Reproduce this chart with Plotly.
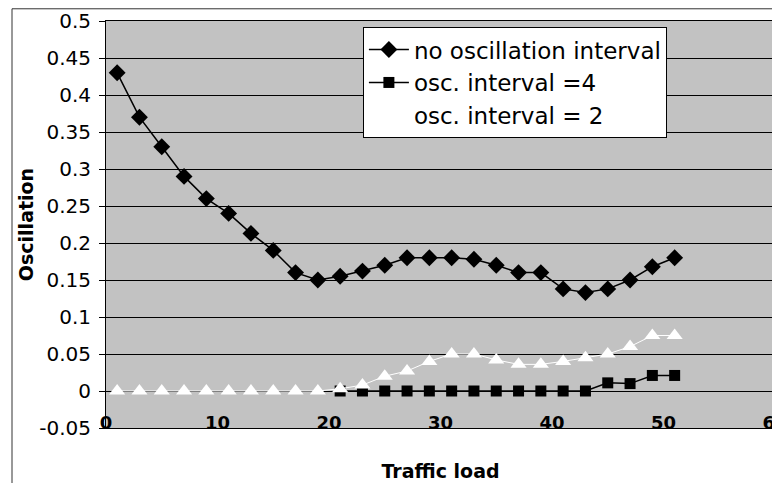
import plotly.graph_objects as go

# ---- data ----
traffic_load = [1, 3, 5, 7, 9, 11, 13, 15, 17, 19, 21, 23, 25, 27, 29, 31, 33,
                35, 37, 39, 41, 43, 45, 47, 49, 51]
no_osc = [0.43, 0.37, 0.33, 0.29, 0.26, 0.24, 0.213, 0.19, 0.16, 0.15, 0.155,
          0.162, 0.17, 0.18, 0.18, 0.18, 0.178, 0.17, 0.16, 0.16, 0.138, 0.133,
          0.138, 0.15, 0.168, 0.18]
load_osc4 = [21, 23, 25, 27, 29, 31, 33, 35, 37, 39, 41, 43, 45, 47, 49, 51]
osc4 = [0, 0, 0, 0, 0, 0, 0, 0, 0, 0, 0, 0, 0.011, 0.01, 0.021, 0.021]
osc2 = [0, 0, 0, 0, 0, 0, 0, 0, 0, 0, 0.003, 0.008, 0.02, 0.027, 0.04, 0.05,
        0.05, 0.042, 0.036, 0.036, 0.04, 0.045, 0.05, 0.06, 0.075, 0.075]

y_tickvals = [-0.05, 0, 0.05, 0.1, 0.15, 0.2, 0.25, 0.3, 0.35, 0.4, 0.45, 0.5]
y_ticktext = ["-0.05", "0", "0.05", "0.1", "0.15", "0.2", "0.25", "0.3",
              "0.35", "0.4", "0.45", "0.5"]
x_tickvals = [0, 10, 20, 30, 40, 50, 60]

FONT = "DejaVu Sans, sans-serif"

fig = go.Figure()
fig.add_trace(go.Scatter(
    x=traffic_load, y=no_osc, mode="lines+markers",
    name="no oscillation interval",
    line=dict(color="black", width=1.5),
    marker=dict(symbol="diamond", size=13, color="black")))
fig.add_trace(go.Scatter(
    x=load_osc4, y=osc4, mode="lines+markers",
    name="osc. interval =4",
    line=dict(color="black", width=1.5),
    marker=dict(symbol="square", size=11, color="black")))
fig.add_trace(go.Scatter(
    x=traffic_load, y=osc2, mode="lines+markers",
    name="osc. interval = 2",
    line=dict(color="white", width=1),
    marker=dict(symbol="triangle-up", size=14, color="white")))

# the page body adds an 8 px offset, so the figure is sized 772x475
fig.update_layout(
    width=772, height=475,
    margin=dict(l=98, r=5, t=13, b=55),
    paper_bgcolor="white",
    plot_bgcolor="#c2c2c2",
    font=dict(family=FONT, color="black"),
    showlegend=True,
    legend=dict(
        x=0.384, y=0.985, xanchor="left", yanchor="top",
        bgcolor="white", bordercolor="black", borderwidth=1,
        font=dict(size=23, family=FONT, color="black"),
        entrywidth=340, entrywidthmode="pixels",
        itemwidth=40, tracegroupgap=0),
    xaxis=dict(
        range=[0, 60], tickvals=x_tickvals, automargin=False,
        ticklabelposition="inside", ticklabeloverflow="allow", ticks="",
        ticklabelstandoff=-4,
        tickfont=dict(size=18, family=FONT, color="black", weight="bold"),
        showgrid=False, zeroline=False,
        showline=True, linecolor="black", linewidth=1, mirror=True,
        title=dict(text="<b>Traffic load</b>", font=dict(size=19, family=FONT),
                   standoff=32)),
    yaxis=dict(
        range=[-0.05, 0.5], tickvals=y_tickvals, ticktext=y_ticktext,
        automargin=False,
        ticks="outside", ticklen=6, tickcolor="black", ticklabelstandoff=4,
        tickfont=dict(size=20, family=FONT, color="black"),
        showgrid=True, gridcolor="black", gridwidth=1,
        zeroline=False,
        showline=True, linecolor="black", linewidth=1, mirror=True,
        title=dict(text="<b>Oscillation</b>", font=dict(size=19, family=FONT),
                   standoff=0)),
)

# outer chart frame (left edge and top)
fig.add_shape(type="rect", xref="paper", yref="paper",
              x0=-0.1405, x1=1.02, y0=-0.2, y1=1.03,
              line=dict(color="#333333", width=1), layer="below")

fig.write_html("out.html")
